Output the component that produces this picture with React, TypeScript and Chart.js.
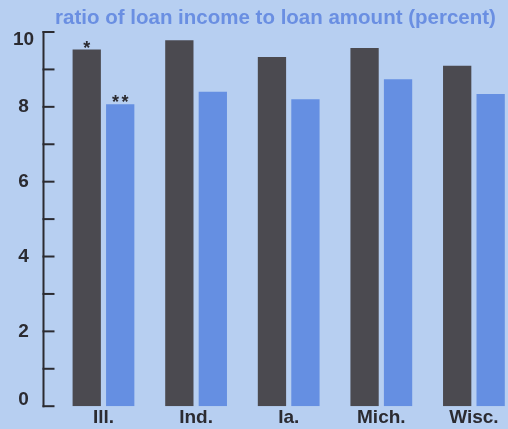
import React, { useEffect, useRef } from "react";
import { Chart, registerables } from "chart.js";

Chart.register(...registerables);

const categories = ["Ill.", "Ind.", "Ia.", "Mich.", "Wisc."];
const loanIncomeDark = [9.53, 9.78, 9.33, 9.57, 9.1];
const loanIncomeBlue = [8.07, 8.4, 8.2, 8.74, 8.34];
const darkNotes = ["*", "", "", "", ""];
const blueNotes = ["**", "", "", "", ""];
const yTickLabels = ["0", "", "2", "", "4", "", "6", "", "8", "", "10"];
const titleText = "ratio of loan income to loan amount (percent)";

const BG = "#b7cff1";
const DARK = "#4b4a50";
const BLUE = "#658fe2";
const TITLE = "#6a8fe2";
const INK = "#2b2b31";

const decorPlugin = {
  id: "decor",
  afterDraw(chart: any) {
    const ctx = chart.ctx;
    const y = chart.scales.y;
    const area = chart.chartArea;
    const ax = area.left + 0.5;
    ctx.save();
    ctx.strokeStyle = INK;
    ctx.lineWidth = 2;
    ctx.beginPath();
    ctx.moveTo(ax, y.getPixelForValue(y.max) - 1);
    ctx.lineTo(ax, y.getPixelForValue(y.min) + 1);
    ctx.stroke();
    ctx.fillStyle = INK;
    ctx.font = "bold 19px 'Liberation Sans', Arial, sans-serif";
    ctx.textAlign = "center";
    ctx.textBaseline = "middle";
    y.ticks.forEach((t: any) => {
      const py = y.getPixelForValue(t.value);
      ctx.beginPath();
      ctx.moveTo(ax - 1, py);
      ctx.lineTo(ax + 11, py);
      ctx.stroke();
      const lbl = yTickLabels[Math.round(t.value)] || "";
      if (lbl) {
        const cy = Math.min(Math.max(py, area.top + 8), area.bottom - 6);
        ctx.fillText(lbl, 23.5, cy);
      }
    });
    // asterisk notes
    ctx.font = "bold 18px 'Liberation Sans', Arial, sans-serif";
    ctx.textBaseline = "alphabetic";
    ctx.textAlign = "left";
    const notes = [darkNotes, blueNotes];
    notes.forEach((arr, di) => {
      const meta = chart.getDatasetMeta(di);
      arr.forEach((n, i) => {
        if (!n) return;
        const el = meta.data[i];
        const sp = 2.5;
        const chars = n.split("");
        const widths = chars.map((c) => ctx.measureText(c).width);
        const total = widths.reduce((a, b) => a + b, 0) + sp * (chars.length - 1);
        let x = el.x - total / 2;
        chars.forEach((c, k) => {
          ctx.fillText(c, x, el.y + 4);
          x += widths[k] + sp;
        });
      });
    });
    ctx.restore();
  },
};

export default function App() {
  const ref = useRef<HTMLCanvasElement | null>(null);
  useEffect(() => {
    if (!ref.current) return;
    const chart = new Chart(ref.current, {
      type: "bar",
      data: {
        datasets: [
          {
            label: "dark",
            data: loanIncomeDark.map((v, i) => ({ x: i, y: v })),
            backgroundColor: DARK,
            borderWidth: 0,
            categoryPercentage: 0.723,
            barPercentage: 0.845,
          },
          {
            label: "blue",
            data: loanIncomeBlue.map((v, i) => ({ x: i, y: v })),
            backgroundColor: BLUE,
            borderWidth: 0,
            categoryPercentage: 0.723,
            barPercentage: 0.845,
          },
        ],
      },
      options: {
        responsive: false,
        animation: false,
        events: [],
        devicePixelRatio: 1,
        layout: { padding: 0 },
        plugins: {
          legend: { display: false },
          tooltip: { enabled: false },
          title: {
            display: true,
            text: titleText,
            fullSize: false,
            align: "center",
            color: TITLE,
            font: { family: "'Liberation Sans', Arial, sans-serif", size: 20.5, weight: "bold" },
            padding: { top: 6, bottom: 1.4 },
          },
        },
        scales: {
          x: {
            type: "linear",
            min: -0.653,
            max: 4.368,
            offset: false,
            grid: { display: false, drawTicks: false, offset: false },
            border: { display: false },
            afterBuildTicks: (axis: any) => {
              axis.ticks = categories.map((_, i) => ({ value: i }));
            },
            ticks: {
              autoSkip: false,
              maxRotation: 0,
              padding: 0,
              color: INK,
              font: { family: "'Liberation Sans', Arial, sans-serif", size: 19, weight: "bold" },
              callback: (v: any) => categories[Math.round(Number(v))] ?? "",
            },
          },
          y: {
            type: "linear",
            min: 0,
            max: 10,
            grid: { display: false, drawTicks: false },
            border: { display: false },
            ticks: { stepSize: 1, display: false },
            afterFit: (s: any) => {
              s.width = 43;
            },
          },
        },
      },
      plugins: [decorPlugin],
    } as any);
    return () => chart.destroy();
  }, []);
  return (
    <div
      style={{
        position: "absolute",
        left: 0,
        top: 0,
        width: 508,
        height: 429,
        background: BG,
      }}
    >
      <canvas ref={ref} width={508} height={429} style={{ display: "block", width: 508, height: 429 }} />
    </div>
  );
}
